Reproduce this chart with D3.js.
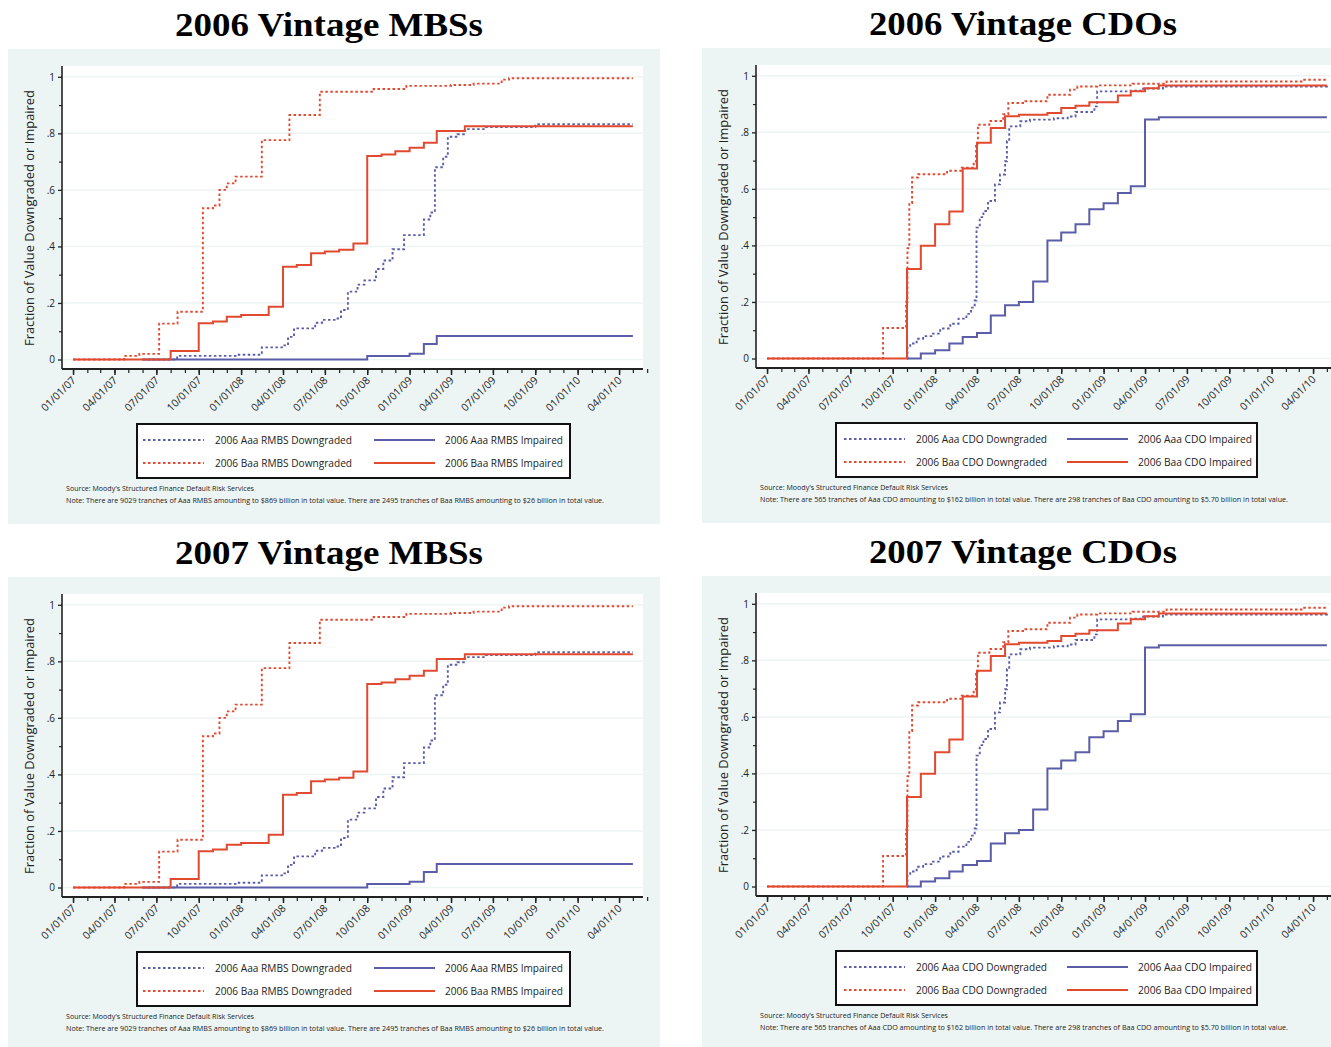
<!DOCTYPE html>
<html>
<head>
<meta charset="utf-8">
<script src="https://cdn.jsdelivr.net/npm/d3@7"></script>
<style>
  body { margin:0; background:#fff; }
  svg { display:block; font-family:"Open Sans", "Noto Sans", sans-serif; }
</style>
</head>
<body>
<svg id="chart" width="1331" height="1047"></svg>
<script>
// ---- data ----
const panelTitles = ['2006 Vintage MBSs', '2006 Vintage CDOs', '2007 Vintage MBSs', '2007 Vintage CDOs'];

const xTickLabels = ['01/01/07','04/01/07','07/01/07','10/01/07','01/01/08','04/01/08','07/01/08',
  '10/01/08','01/01/09','04/01/09','07/01/09','10/01/09','01/01/10','04/01/10'];
const yTicks      = [0, .2, .4, .6, .8, 1];
const yTickLabels = ['0', '.2', '.4', '.6', '.8', '1'];

// MBS series: [date, fraction]
const mbsAaaDown = [['2007-06-01',0],['2007-08-15',0.013],['2007-12-20',0.017],['2008-02-15',0.043],
  ['2008-04-01',0.05],['2008-04-12',0.08],['2008-04-25',0.11],['2008-06-10',0.13],['2008-06-25',0.14],
  ['2008-07-25',0.145],['2008-08-05',0.175],['2008-08-20',0.24],['2008-09-10',0.265],['2008-09-25',0.28],
  ['2008-10-20',0.32],['2008-11-05',0.35],['2008-11-25',0.39],['2008-12-20',0.44],['2009-02-01',0.495],
  ['2009-02-15',0.52],['2009-02-25',0.68],['2009-03-15',0.717],['2009-03-25',0.788],['2009-04-15',0.797],
  ['2009-05-01',0.815],['2009-06-15',0.822],['2009-10-01',0.832],['2010-05-01',0.832]];
const mbsAaaImp  = [['2007-06-01',0],['2008-10-01',0.012],['2009-01-01',0.02],['2009-02-01',0.055],
  ['2009-03-01',0.083],['2010-05-01',0.083]];
const mbsBaaDown = [['2007-01-01',0],['2007-04-22',0.013],['2007-05-25',0.02],['2007-07-07',0.127],
  ['2007-08-16',0.169],['2007-10-10',0.535],['2007-11-01',0.545],['2007-11-15',0.6],['2007-12-01',0.623],
  ['2007-12-20',0.647],['2008-02-15',0.776],['2008-04-15',0.865],['2008-06-20',0.947],['2008-10-15',0.957],
  ['2008-12-25',0.968],['2009-04-01',0.971],['2009-05-20',0.976],['2009-07-20',0.99],['2009-08-05',0.995],
  ['2010-05-01',0.995]];
const mbsBaaImp  = [['2007-01-01',0],['2007-08-01',0.03],['2007-10-01',0.128],['2007-11-01',0.134],
  ['2007-12-01',0.151],['2008-01-01',0.157],['2008-03-01',0.187],['2008-04-01',0.328],['2008-05-01',0.334],
  ['2008-06-01',0.376],['2008-07-01',0.382],['2008-08-01',0.388],['2008-09-01',0.41],['2008-10-01',0.72],
  ['2008-11-01',0.725],['2008-12-01',0.737],['2009-01-01',0.749],['2009-02-01',0.767],['2009-03-01',0.808],
  ['2009-05-01',0.825],['2010-05-01',0.825]];

// CDO series
const cdoAaaDown = [['2007-11-01',0],['2007-11-02',0.041],['2007-11-08',0.053],['2007-11-22',0.07],
  ['2007-12-06',0.079],['2007-12-24',0.088],['2008-01-12',0.106],['2008-02-03',0.123],['2008-02-21',0.141],
  ['2008-03-09',0.158],['2008-03-19',0.18],['2008-03-27',0.205],['2008-03-31',0.463],['2008-04-07',0.5],
  ['2008-04-15',0.522],['2008-04-25',0.557],['2008-05-10',0.616],['2008-05-21',0.651],['2008-06-01',0.698],
  ['2008-06-05',0.769],['2008-06-10',0.821],['2008-07-04',0.839],['2008-07-25',0.845],['2008-09-15',0.85],
  ['2008-10-15',0.856],['2008-11-01',0.872],['2008-12-12',0.892],['2008-12-18',0.945],['2009-03-01',0.947],
  ['2009-03-28',0.955],['2009-05-10',0.962],['2010-05-01',0.968]];
const cdoAaaImp  = [['2007-11-01',0],['2007-12-01',0.018],['2008-01-01',0.029],['2008-02-01',0.053],
  ['2008-03-01',0.076],['2008-04-01',0.09],['2008-05-01',0.152],['2008-06-01',0.188],['2008-07-01',0.2],
  ['2008-08-01',0.272],['2008-09-01',0.417],['2008-10-01',0.446],['2008-11-01',0.475],['2008-12-01',0.528],
  ['2009-01-01',0.549],['2009-02-01',0.585],['2009-03-01',0.609],['2009-04-01',0.845],['2009-05-01',0.853],
  ['2010-05-01',0.853]];
const cdoBaaDown = [['2007-01-01',0],['2007-09-10',0.108],['2007-10-30',0.2],['2007-11-02',0.39],
  ['2007-11-06',0.55],['2007-11-12',0.64],['2007-11-25',0.652],['2008-01-27',0.664],['2008-02-28',0.675],
  ['2008-03-25',0.693],['2008-03-30',0.76],['2008-04-03',0.827],['2008-04-28',0.84],['2008-05-28',0.864],
  ['2008-06-08',0.904],['2008-07-15',0.91],['2008-09-01',0.933],['2008-10-20',0.951],['2008-11-05',0.962],
  ['2008-12-18',0.966],['2009-03-05',0.972],['2009-05-18',0.98],['2010-03-10',0.986],['2010-05-01',0.986]];
const cdoBaaImp  = [['2007-01-01',0],['2007-11-01',0.317],['2007-12-01',0.399],['2008-01-01',0.475],
  ['2008-02-01',0.52],['2008-03-01',0.672],['2008-04-01',0.763],['2008-05-01',0.815],['2008-06-01',0.857],
  ['2008-07-01',0.862],['2008-09-01',0.868],['2008-10-01',0.886],['2008-11-01',0.894],['2008-12-01',0.906],
  ['2009-02-01',0.93],['2009-03-01',0.945],['2009-04-01',0.956],['2009-05-01',0.966],['2010-05-01',0.966]];

const mbsLegend = ['2006 Aaa RMBS Downgraded','2006 Aaa RMBS Impaired','2006 Baa RMBS Downgraded','2006 Baa RMBS Impaired'];
const cdoLegend = ['2006 Aaa CDO Downgraded','2006 Aaa CDO Impaired','2006 Baa CDO Downgraded','2006 Baa CDO Impaired'];

const sourceText = "Source: Moody's Structured Finance Default Risk Services";
const mbsNote = 'Note: There are 9029 tranches of Aaa RMBS amounting to $869 billion in total value. There are 2495 tranches of Baa RMBS amounting to $26 billion in total value.';
const cdoNote = 'Note: There are 565 tranches of Aaa CDO amounting to $162 billion in total value. There are 298 tranches of Baa CDO amounting to $5.70 billion in total value.';

// ---- drawing ----
const RED = '#e24a30', BLUE = '#5b5da8', BG = '#edf4f4', GRID = '#eef3f3';
const parse = d3.timeParse('%Y-%m-%d');
const parseTick = d3.timeParse('%m/%d/%y');
const svg = d3.select('#chart');

function drawPanel(ox, oy, title, series, legend, note, lg) {
  const g = svg.append('g').attr('transform', `translate(${ox},${oy})`);

  g.append('text').attr('x', 329).attr('y', 36)
    .attr('text-anchor', 'middle')
    .style('font-family', '"Liberation Serif", serif').style('font-weight', 'bold').style('font-size', '33px')
    .attr('textLength', 308).attr('lengthAdjust', 'spacingAndGlyphs')
    .text(title);

  g.append('rect').attr('x', 8).attr('y', 49).attr('width', 652).attr('height', 475).attr('fill', BG);
  g.append('rect').attr('x', 62).attr('y', 66).attr('width', 581).attr('height', 303).attr('fill', '#fff');

  const x = d3.scaleTime().domain([parse('2006-12-08'), parse('2010-05-23')]).range([62, 643]);
  const y = d3.scaleLinear().domain([0, 1]).range([359.5, 76.8]);

  g.append('g').selectAll('line').data(yTicks).join('line')
    .attr('x1', 63).attr('x2', 643).attr('y1', d => y(d)).attr('y2', d => y(d))
    .attr('stroke', GRID).attr('stroke-width', 1.5);

  // y axis
  const ya = g.append('g').attr('transform', 'translate(62,0)')
    .call(d3.axisLeft(y).tickValues(yTicks).tickFormat((d, i) => yTickLabels[i]).tickSize(4).tickPadding(3));
  ya.select('.domain').attr('d', 'M0,66V369').attr('stroke', '#222').attr('stroke-width', 1.6);
  ya.selectAll('.tick line').attr('stroke', '#222').attr('stroke-width', 1.3);
  ya.selectAll('.tick text').style('font-size', '10px').attr('fill', '#222')
    .style('font-family', '"Open Sans", sans-serif');
  g.append('g').attr('transform', 'translate(62,0)')
    .call(d3.axisLeft(y).tickValues(d3.range(0.1, 1, 0.2)).tickFormat('').tickSize(3))
    .call(s => s.select('.domain').remove())
    .selectAll('line').attr('stroke', '#222').attr('stroke-width', 1.2);

  // x axis
  const majors = xTickLabels.map(parseTick);
  const minors = d3.timeMonth.range(parse('2007-01-01'), parse('2010-06-02'));
  g.append('g').attr('transform', 'translate(0,369)')
    .call(d3.axisBottom(x).tickValues(minors).tickFormat('').tickSize(4))
    .call(s => s.select('.domain').remove())
    .selectAll('line').attr('stroke', '#222').attr('stroke-width', 1.2);
  const xa = g.append('g').attr('transform', 'translate(0,369)')
    .call(d3.axisBottom(x).tickValues(majors).tickFormat((d, i) => xTickLabels[i]).tickSize(6));
  xa.select('.domain').attr('d', 'M62,0H643').attr('stroke', '#222').attr('stroke-width', 2.2);
  xa.selectAll('.tick line').attr('stroke', '#222').attr('stroke-width', 1.5);
  xa.selectAll('.tick text')
    .attr('text-anchor', 'end').attr('fill', '#222')
    .style('font-size', '10.5px').style('font-family', '"Open Sans", sans-serif')
    .attr('dy', null).attr('y', 0)
    .attr('transform', 'translate(3,12) rotate(-45)');

  // y label
  g.append('text')
    .attr('transform', 'translate(34,218) rotate(-90)')
    .attr('text-anchor', 'middle').style('font-size', '12.5px').attr('fill', '#222')
    .attr('textLength', 256).attr('lengthAdjust', 'spacingAndGlyphs')
    .text('Fraction of Value Downgraded or Impaired');

  // lines
  const line = d3.line().x(d => x(parse(d[0]))).y(d => y(d[1])).curve(d3.curveStepAfter);
  series.forEach(s => {
    g.append('path').datum(s.data)
      .attr('d', line).attr('fill', 'none')
      .attr('stroke', s.color).attr('stroke-width', s.dash ? 1.9 : 2)
      .attr('stroke-dasharray', s.dash ? '2.5,2.5' : null);
  });

  // legend
  g.append('rect').attr('x', lg.x0).attr('y', 424).attr('width', lg.x1 - lg.x0).attr('height', 54)
    .attr('fill', '#fff').attr('stroke', '#111').attr('stroke-width', 2);
  const items = [
    { c: BLUE, dash: true,  sx: lg.s1, tx: lg.t1, y: 440, label: legend[0], w: lg.w1 },
    { c: BLUE, dash: false, sx: lg.s2, tx: lg.t2, y: 440, label: legend[1], w: lg.w2 },
    { c: RED,  dash: true,  sx: lg.s1, tx: lg.t1, y: 463, label: legend[2], w: lg.w1 },
    { c: RED,  dash: false, sx: lg.s2, tx: lg.t2, y: 463, label: legend[3], w: lg.w2 }
  ];
  const li = g.append('g').selectAll('g').data(items).join('g');
  li.append('line').attr('x1', d => d.sx).attr('x2', d => d.sx + 61).attr('y1', d => d.y).attr('y2', d => d.y)
    .attr('stroke', d => d.c).attr('stroke-width', 2)
    .attr('stroke-dasharray', d => d.dash ? '2.5,2.5' : null);
  li.append('text').attr('x', d => d.tx).attr('y', d => d.y + 4)
    .style('font-size', '11px').attr('fill', '#222')
    .attr('textLength', d => d.w).attr('lengthAdjust', 'spacingAndGlyphs')
    .text(d => d.label);

  g.append('text').attr('x', 66).attr('y', 491).style('font-size', '6.5px').attr('fill', '#222')
    .attr('textLength', lg.src).attr('lengthAdjust', 'spacingAndGlyphs').text(sourceText);
  g.append('text').attr('x', 66).attr('y', 503).style('font-size', '6.5px').attr('fill', '#222')
    .attr('textLength', lg.note).attr('lengthAdjust', 'spacingAndGlyphs').text(note);
}

const mbsSeries = [
  { data: mbsAaaImp,  color: BLUE, dash: false },
  { data: mbsAaaDown, color: BLUE, dash: true },
  { data: mbsBaaDown, color: RED,  dash: true },
  { data: mbsBaaImp,  color: RED,  dash: false }
];
const cdoSeries = [
  { data: cdoAaaImp,  color: BLUE, dash: false },
  { data: cdoAaaDown, color: BLUE, dash: true },
  { data: cdoBaaDown, color: RED,  dash: true },
  { data: cdoBaaImp,  color: RED,  dash: false }
];
const mbsLg = { x0: 137, x1: 570, s1: 143, t1: 215, s2: 374, t2: 445, w1: 137, w2: 118, src: 188, note: 538 };
const cdoLg = { x0: 142, x1: 563, s1: 150, t1: 222, s2: 373, t2: 444, w1: 131, w2: 114, src: 188, note: 528 };

drawPanel(0,   0,   panelTitles[0], mbsSeries, mbsLegend, mbsNote, mbsLg);
drawPanel(694, -1,  panelTitles[1], cdoSeries, cdoLegend, cdoNote, cdoLg);
drawPanel(0,   528, panelTitles[2], mbsSeries, mbsLegend, mbsNote, mbsLg);
drawPanel(694, 527, panelTitles[3], cdoSeries, cdoLegend, cdoNote, cdoLg);
</script>
</body>
</html>
